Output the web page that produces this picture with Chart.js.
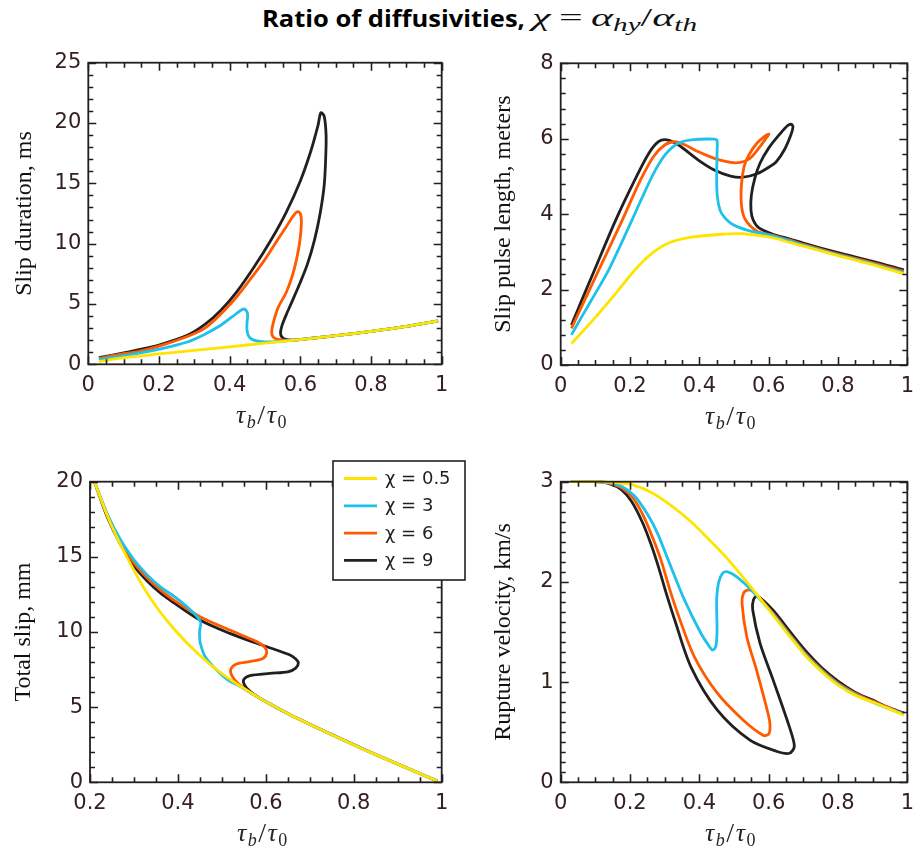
<!DOCTYPE html>
<html><head><meta charset="utf-8">
<script src="https://cdn.jsdelivr.net/npm/chart.js@4.4.1/dist/chart.umd.min.js"></script>
<style>
html,body{margin:0;padding:0;background:#fff;width:923px;height:859px;overflow:hidden;position:relative}
canvas{position:absolute}
#title{position:absolute;left:0;top:0;width:923px;height:40px;color:#000}
#title span.part{position:absolute;top:1px;white-space:nowrap;line-height:34px;display:inline-block;transform-origin:0 50%}
#tt{left:262px;font-family:"Open Sans";font-weight:700;font-size:23px}
#tm{left:532px;font-family:"Liberation Serif";font-size:26px;color:#111}
#tm i{font-style:italic}
#tm sub{font-size:18px;vertical-align:-5px;font-style:italic}
</style></head><body>
<div id="title"><span class="part" id="tt">Ratio of diffusivities,</span><span class="part" id="tm"><i>χ</i>&#8201;=&#8201;<i>α</i><sub>hy</sub>/<i>α</i><sub>th</sub></span></div>
<canvas id="c1" width="460" height="400" style="left:0px;top:40px"></canvas>
<canvas id="c2" width="463" height="400" style="left:460px;top:40px"></canvas>
<canvas id="c3" width="470" height="419" style="left:0px;top:440px"></canvas>
<canvas id="c4" width="463" height="419" style="left:460px;top:440px"></canvas>
<script>
// ---- legend / series labels and colours
const chiLabels = ['χ = 0.5', 'χ = 3', 'χ = 6', 'χ = 9'];
const chiColors = ['#FFE400', '#1FC0E9', '#FF5A00', '#231F20'];

// ---- Panel 1: slip duration (ms) vs tau_b/tau_0
const dur05 = [[0.03,0.22],[0.1,0.55],[0.2,0.86],[0.3,1.15],[0.4,1.45],[0.5,1.75],[0.6,2.05],[0.7,2.37],[0.8,2.73],[0.9,3.14],[0.99,3.6]];
const dur3 = [[0.03,0.4],[0.1,0.72],[0.14,0.9],[0.2,1.25],[0.28,1.85],[0.33,2.5],[0.376,3.26],[0.41,4.0],[0.438,4.57],[0.447,4.45],[0.451,4.1],[0.449,3.4],[0.449,2.8],[0.455,2.27],[0.468,2.0],[0.49,1.88],[0.52,1.86],[0.55,1.92],[0.585,2.0],[0.62,2.12],[0.7,2.37],[0.8,2.73],[0.9,3.14],[0.99,3.6]];
const dur6 = [[0.03,0.5],[0.1,0.88],[0.14,1.05],[0.2,1.5],[0.28,2.3],[0.33,3.0],[0.376,4.2],[0.42,5.6],[0.47,7.5],[0.5,8.7],[0.533,10.2],[0.56,11.4],[0.58,12.3],[0.592,12.65],[0.6,12.5],[0.603,11.8],[0.599,10.3],[0.59,8.8],[0.578,7.4],[0.56,5.95],[0.537,4.7],[0.524,3.5],[0.519,2.75],[0.522,2.3],[0.535,2.06],[0.56,1.99],[0.6,2.05],[0.7,2.37],[0.8,2.73],[0.9,3.14],[0.99,3.6]];
const dur9 = [[0.03,0.55],[0.1,0.95],[0.14,1.2],[0.2,1.6],[0.28,2.4],[0.33,3.3],[0.376,4.5],[0.42,6.0],[0.47,8.1],[0.517,10.3],[0.56,12.6],[0.6,15.2],[0.63,17.7],[0.65,19.8],[0.658,20.85],[0.667,20.6],[0.672,19.5],[0.673,18.3],[0.668,15.0],[0.656,12.5],[0.64,10.3],[0.62,8.3],[0.6,6.8],[0.578,5.3],[0.56,4.1],[0.548,3.2],[0.544,2.6],[0.548,2.25],[0.558,2.06],[0.58,2.0],[0.62,2.12],[0.7,2.37],[0.8,2.73],[0.9,3.14],[0.99,3.6]];

// ---- Panel 2: slip pulse length (m)
const len05 = [[0.031,0.57],[0.093,1.19],[0.159,1.9],[0.214,2.52],[0.263,2.96],[0.31,3.23],[0.377,3.39],[0.472,3.47],[0.527,3.48],[0.566,3.44],[0.614,3.37],[0.661,3.25],[0.7,3.15],[0.8,2.9],[0.9,2.66],[0.99,2.42]];
const len3 = [[0.031,0.8],[0.06,1.27],[0.1,1.9],[0.14,2.55],[0.206,3.85],[0.263,4.99],[0.301,5.57],[0.339,5.88],[0.377,5.97],[0.443,5.99],[0.451,5.95],[0.451,5.6],[0.45,4.9],[0.452,4.46],[0.46,4.1],[0.472,3.92],[0.49,3.76],[0.509,3.67],[0.54,3.57],[0.566,3.51],[0.614,3.42],[0.661,3.29],[0.7,3.18],[0.8,2.92],[0.9,2.68],[0.99,2.45]];
const len6 = [[0.031,0.97],[0.06,1.54],[0.11,2.52],[0.178,3.85],[0.23,4.9],[0.268,5.53],[0.301,5.84],[0.33,5.92],[0.358,5.84],[0.396,5.66],[0.443,5.48],[0.49,5.37],[0.518,5.37],[0.546,5.48],[0.575,5.79],[0.593,6.02],[0.601,6.12],[0.594,6.1],[0.566,5.88],[0.543,5.57],[0.529,5.26],[0.521,4.73],[0.522,4.2],[0.533,3.85],[0.566,3.55],[0.614,3.43],[0.661,3.31],[0.7,3.2],[0.8,2.94],[0.9,2.71],[0.99,2.48]];
const len9 = [[0.031,1.06],[0.06,1.7],[0.093,2.42],[0.159,3.85],[0.216,4.95],[0.254,5.61],[0.282,5.92],[0.306,5.97],[0.339,5.84],[0.396,5.44],[0.443,5.17],[0.49,5.01],[0.527,4.98],[0.566,5.07],[0.603,5.26],[0.622,5.39],[0.645,5.7],[0.662,6.05],[0.67,6.3],[0.666,6.38],[0.655,6.35],[0.63,6.1],[0.6,5.75],[0.575,5.35],[0.56,4.95],[0.55,4.5],[0.549,4.1],[0.555,3.85],[0.571,3.64],[0.614,3.46],[0.661,3.34],[0.7,3.23],[0.8,2.98],[0.9,2.75],[0.99,2.52]];

// ---- Panel 3: total slip (mm)
const slip05 = [[0.21,20],[0.25,17.0],[0.30,14.1],[0.34,12.13],[0.39,10.23],[0.45,8.43],[0.503,7.16],[0.58,5.7],[0.655,4.5],[0.75,3.17],[0.85,1.84],[0.99,0.09]];
const slip3 = [[0.21,20],[0.24,17.8],[0.27,16.1],[0.30,14.8],[0.33,13.8],[0.36,13.0],[0.39,12.4],[0.42,11.7],[0.443,11.05],[0.452,10.6],[0.45,10.2],[0.449,9.9],[0.451,9.25],[0.462,8.36],[0.488,7.47],[0.514,6.8],[0.541,6.38],[0.58,5.7],[0.655,4.5],[0.75,3.17],[0.85,1.84],[0.99,0.09]];
const slip6 = [[0.21,20],[0.24,17.75],[0.27,16.0],[0.30,14.6],[0.33,13.6],[0.36,12.8],[0.39,12.13],[0.45,11.02],[0.518,10.13],[0.579,9.36],[0.597,9.0],[0.602,8.65],[0.594,8.25],[0.564,8.03],[0.533,7.87],[0.52,7.5],[0.524,7.03],[0.537,6.58],[0.556,6.14],[0.58,5.7],[0.655,4.5],[0.75,3.17],[0.85,1.84],[0.99,0.09]];
const slip9 = [[0.21,20],[0.24,17.6],[0.27,15.8],[0.30,14.4],[0.33,13.4],[0.36,12.6],[0.382,12.13],[0.45,10.8],[0.518,9.91],[0.579,9.25],[0.624,8.8],[0.655,8.47],[0.668,8.2],[0.674,7.95],[0.668,7.6],[0.65,7.35],[0.609,7.25],[0.564,7.1],[0.55,6.85],[0.551,6.5],[0.564,6.05],[0.594,5.46],[0.655,4.5],[0.75,3.18],[0.85,1.85],[0.99,0.09]];

// ---- Panel 4: rupture velocity (km/s)
const vel05 = [[0.031,3.0],[0.1,3.0],[0.159,2.99],[0.206,2.97],[0.263,2.89],[0.319,2.76],[0.376,2.6],[0.423,2.44],[0.471,2.27],[0.518,2.08],[0.56,1.9],[0.612,1.67],[0.66,1.46],[0.707,1.26],[0.754,1.1],[0.8,0.97],[0.849,0.87],[0.9,0.8],[0.943,0.74],[0.99,0.67]];
const vel3 = [[0.031,3.0],[0.1,3.0],[0.14,2.99],[0.178,2.95],[0.215,2.85],[0.253,2.66],[0.28,2.48],[0.31,2.22],[0.357,1.82],[0.404,1.49],[0.43,1.35],[0.438,1.32],[0.447,1.35],[0.451,1.5],[0.45,1.82],[0.456,2.0],[0.468,2.09],[0.482,2.1],[0.508,2.05],[0.556,1.9],[0.612,1.68],[0.66,1.47],[0.707,1.27],[0.754,1.11],[0.8,0.98],[0.849,0.88],[0.9,0.8],[0.943,0.74],[0.99,0.68]];
const vel6 = [[0.031,3.0],[0.1,3.0],[0.14,2.985],[0.18,2.93],[0.21,2.83],[0.24,2.65],[0.27,2.4],[0.291,2.2],[0.315,1.92],[0.338,1.68],[0.386,1.25],[0.452,0.89],[0.527,0.62],[0.584,0.47],[0.6,0.48],[0.604,0.56],[0.6,0.66],[0.565,1.12],[0.537,1.45],[0.523,1.79],[0.528,1.89],[0.542,1.92],[0.556,1.9],[0.612,1.69],[0.66,1.48],[0.707,1.28],[0.754,1.12],[0.8,0.99],[0.849,0.89],[0.9,0.81],[0.943,0.75],[0.99,0.68]];
const vel9 = [[0.031,3.0],[0.1,3.0],[0.14,2.98],[0.175,2.92],[0.205,2.8],[0.235,2.6],[0.26,2.38],[0.282,2.15],[0.305,1.88],[0.329,1.62],[0.376,1.15],[0.452,0.72],[0.546,0.42],[0.622,0.31],[0.66,0.29],[0.674,0.36],[0.66,0.55],[0.613,1.02],[0.575,1.39],[0.554,1.72],[0.556,1.82],[0.567,1.86],[0.612,1.72],[0.66,1.51],[0.707,1.31],[0.754,1.14],[0.8,1.01],[0.849,0.9],[0.9,0.82],[0.943,0.75],[0.99,0.69]];

// ---- axis titles
const yTitles = ['Slip duration, ms', 'Slip pulse length, meters', 'Total slip, mm', 'Rupture velocity, km/s'];

const TICK_COLOR = '#35201f';
const FRAME_COLOR = '#231F20';

// stretch the two title parts to their measured widths in the reference
(function fitTitle() {
  const fit = (id, target) => {
    const el = document.getElementById(id);
    const w = el.getBoundingClientRect().width;
    el.style.transform = 'scaleX(' + (target / w).toFixed(3) + ')';
  };
  fit('tt', 263);
  fit('tm', 165);
})();

const framePlugin = {
  id: 'frameTicks',
  afterDraw(chart, args, opts) {
    const {ctx, chartArea: a, scales} = chart;
    const xs = scales.x, ys = scales.y;
    ctx.save();
    ctx.strokeStyle = FRAME_COLOR;
    ctx.lineWidth = 1.6;
    ctx.beginPath();
    const minorX = [], minorY = [];
    const nx = Math.round((xs.max - xs.min) / opts.xMinor);
    for (let i = 0; i <= nx; i++) minorX.push(xs.min + i * opts.xMinor);
    const ny = Math.round((ys.max - ys.min) / opts.yMinor);
    for (let i = 0; i <= ny; i++) minorY.push(ys.min + i * opts.yMinor);
    const majX = xs.ticks.map(t => t.value), majY = ys.ticks.map(t => t.value);
    const isMaj = (v, arr) => arr.some(m => Math.abs(m - v) < 1e-6);
    minorX.forEach(v => {
      const L = isMaj(v, majX) ? 8 : 5;
      const p = Math.round(xs.getPixelForValue(v)) + 0.5;
      ctx.moveTo(p, a.bottom); ctx.lineTo(p, a.bottom - L);
      ctx.moveTo(p, a.top); ctx.lineTo(p, a.top + L);
    });
    minorY.forEach(v => {
      const L = isMaj(v, majY) ? 8 : 5;
      const p = Math.round(ys.getPixelForValue(v)) + 0.5;
      ctx.moveTo(a.left, p); ctx.lineTo(a.left + L, p);
      ctx.moveTo(a.right, p); ctx.lineTo(a.right - L, p);
    });
    ctx.stroke();
    ctx.lineWidth = 1.8;
    ctx.strokeRect(a.left, a.top, a.right - a.left, a.bottom - a.top);
    // x axis title: tau_b / tau_0
    const parts = [
      {t: 'τ', f: 'italic 26px "Liberation Serif"', dy: 0},
      {t: 'b', f: 'italic 18px "Liberation Serif"', dy: 5},
      {t: '/', f: '28px "Liberation Serif"', dy: 1},
      {t: 'τ', f: 'italic 26px "Liberation Serif"', dy: 0},
      {t: '0', f: '18px "Liberation Serif"', dy: 5}
    ];
    let w = 0;
    parts.forEach(p => { ctx.font = p.f; p.w = ctx.measureText(p.t).width; w += p.w + 1.5; });
    let x = (a.left + a.right) / 2 - w / 2 - 3;
    const base = a.bottom + 59;
    ctx.fillStyle = '#2a2526';
    ctx.textBaseline = 'alphabetic';
    ctx.textAlign = 'left';
    parts.forEach(p => { ctx.font = p.f; ctx.fillText(p.t, x, base + p.dy); x += p.w + 1.5; });
    ctx.restore();
  }
};

const legendPlugin = {
  id: 'boxLegend',
  afterDraw(chart, args, opts) {
    if (!opts.show) return;
    const {ctx, chartArea: a} = chart;
    const bx = a.right + opts.dx, by = a.top + opts.dy, bw = 132, bh = 119;
    ctx.save();
    ctx.fillStyle = '#fff';
    ctx.fillRect(bx, by, bw, bh);
    ctx.strokeStyle = FRAME_COLOR;
    ctx.lineWidth = 1.6;
    ctx.strokeRect(bx, by, bw, bh);
    ctx.font = '18px "DejaVu Sans"';
    ctx.textBaseline = 'middle';
    ctx.textAlign = 'left';
    chart.data.datasets.forEach((ds, i) => {
      const y = by + 17.5 + i * 27.3;
      ctx.strokeStyle = ds.borderColor;
      ctx.lineWidth = 2.8;
      ctx.beginPath(); ctx.moveTo(bx + 11, y); ctx.lineTo(bx + 44, y); ctx.stroke();
      ctx.fillStyle = '#231F20';
      ctx.fillText(ds.label, bx + 52, y + 1);
    });
    ctx.restore();
  }
};

const fmtTick = v => String(+Number(v).toFixed(2));

function makePanel(id, series, cfg) {
  const canvas = document.getElementById(id);
  const cl = parseFloat(canvas.style.left), ct = parseFloat(canvas.style.top);
  const cw = canvas.width, ch = canvas.height;
  const yW = cfg.area.L - cl;
  const xH = ch - (cfg.area.B - ct);
  const datasets = series.map((pts, i) => ({
    label: chiLabels[i],
    data: pts.map(p => ({x: p[0], y: p[1]})),
    borderColor: chiColors[i],
    backgroundColor: chiColors[i],
    borderWidth: 2.8,
    pointRadius: 0,
    showLine: true,
    tension: 0.3,
    fill: false,
    clip: false
  }));
  return new Chart(canvas, {
    type: 'scatter',
    data: {datasets},
    options: {
      responsive: false,
      animation: false,
      events: [],
      layout: {padding: {left: 0, bottom: 0, top: cfg.area.T - ct, right: cw - (cfg.area.R - cl)}},
      plugins: {
        legend: {display: false},
        tooltip: {enabled: false},
        frameTicks: {xMinor: cfg.xMinor, yMinor: cfg.yMinor},
        boxLegend: cfg.legend || {show: false}
      },
      scales: {
        x: {
          type: 'linear', position: 'bottom',
          min: cfg.xMin, max: cfg.xMax,
          grid: {display: false, drawTicks: false, tickLength: 0},
          border: {display: false},
          ticks: {stepSize: cfg.xStep, autoSkip: false, maxRotation: 0, padding: 9,
                  color: TICK_COLOR, callback: fmtTick, font: {family: 'DejaVu Sans', size: 21}},
          afterFit: s => { s.height = xH; }
        },
        y: {
          type: 'linear', position: 'left',
          min: cfg.yMin, max: cfg.yMax,
          grid: {display: false, drawTicks: false, tickLength: 0},
          border: {display: false},
          ticks: {stepSize: cfg.yStep, autoSkip: false, padding: 7,
                  color: TICK_COLOR, callback: fmtTick, font: {family: 'DejaVu Sans', size: 21}},
          title: {display: true, text: cfg.yTitle, color: '#111',
                  font: {family: 'Liberation Serif', size: 24}, padding: {top: cfg.titlePad, bottom: 0}},
          afterFit: s => { s.width = yW; }
        }
      }
    },
    plugins: [framePlugin, legendPlugin]
  });
}

makePanel('c1', [dur05, dur3, dur6, dur9], {
  area: {L: 88.3, R: 441.7, T: 62.7, B: 364.3},
  xMin: 0, xMax: 1, xStep: 0.2, xMinor: 0.05,
  yMin: 0, yMax: 25, yStep: 5, yMinor: 1,
  yTitle: yTitles[0], titlePad: 10.5
});
makePanel('c2', [len05, len3, len6, len9], {
  area: {L: 560.7, R: 912.7, T: 63.3, B: 365},
  xMin: 0, xMax: 1, xStep: 0.2, xMinor: 0.05,
  yMin: 0, yMax: 8, yStep: 2, yMinor: 0.4,
  yTitle: yTitles[1], titlePad: 28.9
});
makePanel('c3', [slip05, slip3, slip6, slip9], {
  area: {L: 90, R: 441.7, T: 481.7, B: 782.3},
  xMin: 0.2, xMax: 1, xStep: 0.2, xMinor: 0.05,
  yMin: 0, yMax: 20, yStep: 5, yMinor: 1,
  yTitle: yTitles[2], titlePad: 8.9,
  legend: {show: true, dx: -108.7, dy: -20.7}
});
makePanel('c4', [vel05, vel3, vel6, vel9], {
  area: {L: 560.7, R: 913.3, T: 481.7, B: 782.3},
  xMin: 0, xMax: 1, xStep: 0.2, xMinor: 0.05,
  yMin: 0, yMax: 3, yStep: 1, yMinor: 0.1,
  yTitle: yTitles[3], titlePad: 28.9
});
</script>
</body></html>
